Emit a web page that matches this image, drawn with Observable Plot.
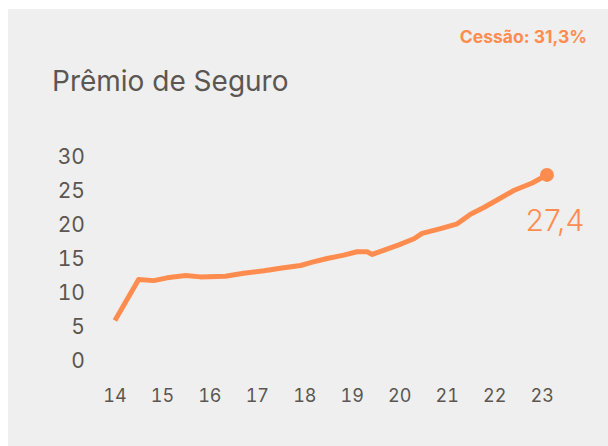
<!DOCTYPE html>
<html>
<head>
<meta charset="utf-8">
<script src="https://cdn.jsdelivr.net/npm/d3@7"></script>
<script src="https://cdn.jsdelivr.net/npm/@observablehq/plot@0.6"></script>
<style>
  html, body { margin: 0; padding: 0; background: #ffffff; }
  #wrap { position: relative; width: 608px; height: 446px; overflow: hidden; }
  #panel { position: absolute; left: 8px; top: 9px; width: 600px; height: 437px; background: #efefef; }
  #cessao { position: absolute; right: 21px; top: 26px; font-family: Inter, "Noto Sans", sans-serif; font-weight: 700; font-size: 17.5px; color: #ff8c4f; white-space: nowrap; }
  #title { position: absolute; left: 52px; top: 64px; font-family: Inter, "Noto Sans", sans-serif; font-weight: 400; font-size: 28px; color: #5b5651; white-space: nowrap; }
  #chart { position: absolute; left: 0; top: 0; }
</style>
</head>
<body>
<div id="wrap">
  <div id="panel"></div>
  <div id="cessao"></div>
  <div id="title"></div>
  <div id="chart"></div>
</div>
<script>
const titleText = "Prêmio de Seguro";
const cessaoText = "Cessão: 31,3%";
const endLabel = "27,4";

const xTicks = [14, 15, 16, 17, 18, 19, 20, 21, 22, 23];
const yTicks = [0, 5, 10, 15, 20, 25, 30];

const period = [14.00, 14.50, 14.82, 15.10, 15.49, 15.80, 16.33, 16.71, 17.14, 17.52, 17.91, 18.16, 18.47, 18.82, 19.10, 19.31, 19.42, 19.70, 19.98, 20.30, 20.47, 20.86, 21.21, 21.49, 21.77, 22.05, 22.40, 22.79, 23.10];
const premio = [6.0, 12.0, 11.85, 12.26, 12.6, 12.4, 12.5, 12.94, 13.3, 13.7, 14.07, 14.56, 15.1, 15.6, 16.1, 16.1, 15.7, 16.4, 17.1, 18.0, 18.8, 19.5, 20.2, 21.6, 22.6, 23.7, 25.1, 26.2, 27.4];

document.getElementById("title").textContent = titleText;
document.getElementById("cessao").textContent = cessaoText;

const data = period.map((p, i) => ({x: p, y: premio[i]}));
const last = data[data.length - 1];
const orange = "#ff8c4f";
const grey = "#5b5651";

const chart = Plot.plot({
  width: 608,
  height: 446,
  marginLeft: 114.4,
  marginRight: 66.3,
  marginTop: 156.7,
  marginBottom: 85.3,
  style: {background: "transparent", fontFamily: "Inter, 'Noto Sans', sans-serif"},
  x: {domain: [14, 23]},
  y: {domain: [0, 30]},
  marks: [
    Plot.axisY({ticks: yTicks, tickSize: 0, tickPadding: 30, fontSize: 21, fill: grey, label: null, tickFormat: d => String(d)}),
    Plot.axisX({ticks: xTicks, tickSize: 0, tickPadding: 28, fontSize: 18, fill: grey, label: null, tickFormat: d => String(d)}),
    Plot.line(data, {x: "x", y: "y", stroke: orange, strokeWidth: 5, strokeLinejoin: "round", strokeLinecap: "butt"}),
    Plot.dot([last], {x: "x", y: "y", r: 7, fill: orange}),
    Plot.text([last], {x: "x", y: "y", text: () => endLabel, dx: 8, dy: 47, fontSize: 30, fontWeight: 300, fill: orange})
  ]
});
document.getElementById("chart").appendChild(chart);
</script>
</body>
</html>
